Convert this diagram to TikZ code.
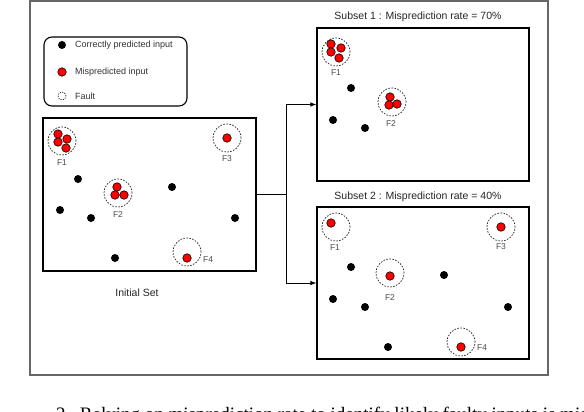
\documentclass[tikz,border=0pt]{standalone}
\usepackage{fontspec}
\setmainfont{Liberation Sans}
\newfontfamily\capfont{Liberation Serif}
\usetikzlibrary{arrows.meta}
\begin{document}
\begin{tikzpicture}[x=1pt,y=-1pt,
  bdot/.style={circle, fill=black, inner sep=0pt, minimum size=8pt},
  rdot/.style={circle, fill=red, draw=black, line width=0.6pt, inner sep=0pt, minimum size=8.5pt},
  fault/.style={circle, draw=black!85, dash pattern=on 1.6pt off 1.4pt, line width=0.7pt, inner sep=0pt, minimum size=28pt},
  flabel/.style={font=\fontsize{8.5}{9}\selectfont, text=black!70, inner sep=0pt},
  legtext/.style={anchor=west, font=\fontsize{9}{10}\selectfont, text=black!80, inner sep=0pt},
  title/.style={font=\fontsize{10.5}{12}\selectfont, text=black!85, inner sep=0pt},
  setbox/.style={draw=black, line width=1.1pt, inner sep=0pt, fill=white},
  conn/.style={draw=black, line width=0.9pt},
  arr/.style={conn, -{Latex[length=6pt,width=4.5pt]}}
]
\useasboundingbox (0,0) rectangle (584,412);
\fill[white] (0,0) rectangle (584,412);
% outer frame
\draw[black!60, line width=1.3pt] (30,1) rectangle (548,375);

% legend
\node[draw=black, line width=1.1pt, rounded corners=8pt, minimum width=143pt, minimum height=69pt, inner sep=0pt] (legend) at (115.5,71.5) {};
\node[bdot] (lb) at (62,45) {};
\node[legtext] (lbt) at (75,45) {Correctly predicted input};
\node[rdot] (lr) at (62,72) {};
\node[legtext] (lrt) at (75,72) {Mispredicted input};
\node[circle, draw=black, dash pattern=on 1.2pt off 1.2pt, line width=0.6pt, inner sep=0pt, minimum size=8pt] (lf) at (62,96) {};
\node[legtext] (lft) at (75,96) {Fault};

% initial set
\node[setbox, minimum width=213pt, minimum height=153pt] (init) at (149.5,194.5) {};
\node[fault] (i1) at (62,141) {};
\node[rdot] at (58,134) {};
\node[rdot] at (67,139) {};
\node[rdot] at (58,142) {};
\node[rdot] at (66,148) {};
\node[flabel] at (62,163) {F1};
\node[fault] (i3) at (227,138) {};
\node[rdot] at (227,138) {};
\node[flabel] at (227,159) {F3};
\node[fault] (i2) at (118,193) {};
\node[rdot] at (117,187) {};
\node[rdot] at (115,195) {};
\node[rdot] at (124,195) {};
\node[flabel] at (118,215) {F2};
\node[fault] (i4) at (187,252) {};
\node[rdot] at (187,258) {};
\node[flabel, anchor=west] at (203,260) {F4};
\node[bdot] at (78,179) {};
\node[bdot] at (172,187) {};
\node[bdot] at (60,210) {};
\node[bdot] at (91,218) {};
\node[bdot] at (235,218) {};
\node[bdot] at (115,258) {};
\node[title] (itl) at (137,293) {Initial Set};

% subset 1
\node[title] (s1t) at (418,17) {Subset 1 : Misprediction rate = 70\%};
\node[setbox, minimum width=212pt, minimum height=153pt] (sub1) at (423,104.5) {};
\node[fault] at (336,52) {};
\node[rdot] at (331,44) {};
\node[rdot] at (341,48) {};
\node[rdot] at (331,52) {};
\node[rdot] at (339,58) {};
\node[flabel] at (336,73) {F1};
\node[fault] at (392,102) {};
\node[rdot] at (390,97) {};
\node[rdot] at (389,105) {};
\node[rdot] at (397,104) {};
\node[flabel] at (391,124) {F2};
\node[bdot] at (351,88) {};
\node[bdot] at (333,120) {};
\node[bdot] at (365,128) {};

% subset 2
\node[title] (s2t) at (418,197) {Subset 2 : Misprediction rate = 40\%};
\node[setbox, minimum width=212pt, minimum height=152pt] (sub2) at (423,283) {};
\node[fault] at (336,227) {};
\node[rdot] at (331,223) {};
\node[flabel] at (335,248) {F1};
\node[fault] at (501,227) {};
\node[rdot] at (501,227) {};
\node[flabel] at (501,247) {F3};
\node[fault] at (390,273) {};
\node[rdot] at (390,276) {};
\node[flabel] at (390,298) {F2};
\node[fault] at (461,342) {};
\node[rdot] at (461,347) {};
\node[flabel, anchor=west] at (477,348) {F4};
\node[bdot] at (351,267) {};
\node[bdot] at (444,275) {};
\node[bdot] at (333,299) {};
\node[bdot] at (365,307) {};
\node[bdot] at (508,307) {};
\node[bdot] at (388,347) {};

% connectors
\coordinate (split) at (286,194.5);
\draw[conn] (init.east) -- (split);
\draw[arr] (split) |- (sub1.west);
\draw[arr] (split) |- (sub2.west);

% cut-off caption
\begin{scope}
\clip (0,0) rectangle (584,412);
\node[anchor=base west, font=\capfont\fontsize{19}{22}\selectfont, inner sep=0pt] (cap) at (56,420.5) {2.\ \ Relying on misprediction rate to identify likely faulty inputs is misleading};
\end{scope}
\end{tikzpicture}
\end{document}
